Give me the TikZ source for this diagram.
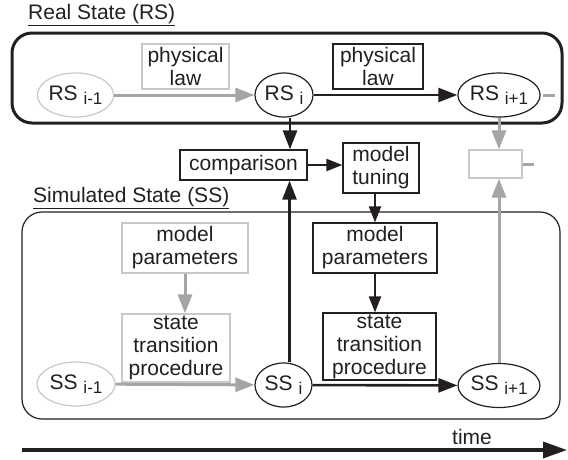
\documentclass[tikz,border=0pt]{standalone}
\usepackage{fontspec}
\setmainfont{Liberation Sans}
\usetikzlibrary{arrows.meta,shapes.geometric}
\definecolor{ink}{RGB}{35,31,32}
\definecolor{arrgray}{RGB}{165,165,165}
\definecolor{boxgray}{RGB}{200,200,200}
\newcommand\stidx[1]{\raisebox{-4pt}{\fontsize{17}{17}\selectfont #1}}

\begin{document}
\begin{tikzpicture}[x=1pt,y=1pt,yscale=-1,
  every node/.style={font=\fontsize{21}{23}\selectfont, text=ink},
  blkbox/.style={draw=ink, line width=1.2, inner sep=0, align=center},
  grybox/.style={draw=boxgray, line width=1.2, inner sep=0, align=center},
  blkell/.style={ellipse, draw=ink, line width=1.2, inner sep=0, minimum height=44},
  gryell/.style={ellipse, draw=boxgray, line width=1.2, inner sep=0, minimum height=44},
  blkarr/.style={draw=ink, line width=2.6, -{Triangle[length=19pt,width=14pt]}},
  blkarrs/.style={draw=ink, line width=2, -{Triangle[length=16pt,width=12pt]}},
  gryarr/.style={draw=arrgray, line width=3, -{Triangle[length=19pt,width=14pt]}},
  title/.style={anchor=base west, inner sep=0}]
\useasboundingbox (0,0) rectangle (568,459);

%Shape: Rounded Rect (frames)
\draw [ink, line width=3, rounded corners=20] (12,33) rectangle (562,123);
\draw [ink, line width=1.2, rounded corners=20] (22,212) rectangle (560,419);

% Text Node
\node [title] (rstitle) at (28,19) {\underline{Real State (RS)}};
\node [title] (sstitle) at (33,202) {\underline{Simulated State (SS)}};

%Shape: Ellipse
\node [gryell, minimum width=75] (rsa) at (75.5,95) {RS \stidx{i-1}};
\node [blkell, minimum width=58] (rsi) at (284,95) {RS \stidx{i}};
\node [blkell, minimum width=78] (rsb) at (499,95) {RS \stidx{i+1}};
\node [gryell, minimum width=78] (ssa) at (76,384) {SS \stidx{i-1}};
\node [blkell, minimum width=57] (ssi) at (283.5,385) {SS \stidx{i}};
\node [blkell, minimum width=82] (ssb) at (499,385.5) {SS \stidx{i+1}};

%Shape: Rectangle
\node [grybox, minimum width=87, minimum height=45] (law1) at (185.5,66.5) {physical\\law};
\node [blkbox, minimum width=90, minimum height=45] (law2) at (378,66.5) {physical\\law};
\node [blkbox, minimum width=127, minimum height=30] (cmp) at (243.5,165) {comparison};
\node [blkbox, minimum width=76, minimum height=50] (tune) at (381,168) {model\\tuning};
\node [grybox, minimum width=53, minimum height=28] (blank) at (495.5,164) {};
\node [grybox, minimum width=126, minimum height=50] (par1) at (185,248) {model\\parameters};
\node [grybox, minimum width=108, minimum height=68] (stp1) at (176,348) {state\\transition\\procedure};
\node [blkbox, minimum width=124, minimum height=50] (par2) at (375,248) {model\\parameters};
\node [blkbox, minimum width=113, minimum height=67] (stp2) at (379.5,346.5) {state\\transition\\procedure};

%Straight Lines
\draw [gryarr] (rsa) -- (rsi);
\draw [blkarr] (rsi) -- (rsb);
\draw [blkarr] ([xshift=6]rsi.south) -- ([xshift=6]rsi.south |- cmp.north);
\draw [blkarrs] (cmp.east) -- (cmp.east -| tune.west);
\draw [blkarrs] (tune.south -| par2.north) -- (par2.north);
\draw [blkarrs] (par2.south) -- (par2.south |- stp2.north);
\draw [gryarr] (par1.south) -- (par1.south |- stp1.north);
\draw [gryarr] (ssa) -- (ssi);
\draw [blkarr] (ssi) -- (ssb);
\draw [blkarr] ([xshift=6]ssi.north) -- ([xshift=6]ssi.north |- cmp.south);
\draw [gryarr] (rsb.south) -- (rsb.south |- blank.north);
\draw [gryarr] (ssb.north) -- (ssb.north |- blank.south);
\draw [arrgray, line width=3] ([xshift=2]rsb.east) -- ++(12,0);
\draw [arrgray, line width=3] (blank.east) -- ++(11,0);

% time axis
\coordinate (t0) at (22,450);
\coordinate (t1) at (567,450);
\draw [ink, line width=3.5, -{Triangle[length=24pt,width=16pt]}] (t0) -- (t1);
\node (time) at (472,437) {time};
\end{tikzpicture}
\end{document}
